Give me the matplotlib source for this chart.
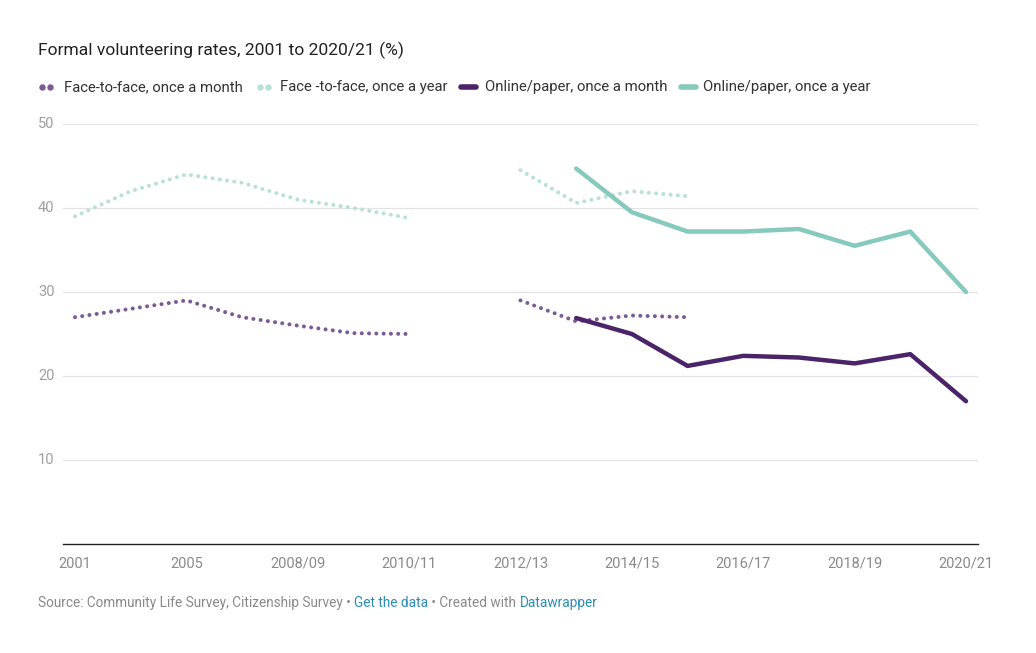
import numpy as np
import matplotlib
matplotlib.use("Agg")
import matplotlib.pyplot as plt
from matplotlib.lines import Line2D

plt.rcParams['font.family'] = ['Roboto', 'DejaVu Sans']

categories = ["2001", "2003", "2005", "2007", "2008/09", "2009/10", "2010/11", "2011/12",
              "2012/13", "2013/14", "2014/15", "2015/16", "2016/17", "2017/18", "2018/19",
              "2019/20", "2020/21"]
tick_labels = ["2001", "2005", "2008/09", "2010/11", "2012/13", "2014/15", "2016/17", "2018/19", "2020/21"]

nan = np.nan
f2f_month = [27, 28, 29, 27, 26, 25.1, 25, nan, 29, 26.5, 27.2, 27, nan, nan, nan, nan, nan]
f2f_year = [39, 42, 44, 43, 41, 40, 38.8, nan, 44.5, 40.6, 42, 41.4, nan, nan, nan, nan, nan]
online_month = [nan]*9 + [26.9, 25, 21.2, 22.4, 22.2, 21.5, 22.6, 17]
online_year = [nan]*9 + [44.7, 39.5, 37.2, 37.2, 37.5, 35.5, 37.2, 30]

series_names = ["Face-to-face, once a month", "Face -to-face, once a year",
                "Online/paper, once a month", "Online/paper, once a year"]
colors = ["#7b5b95", "#b7e1d7", "#4b2369", "#86c9bd"]

W, H = 1036, 653
fig = plt.figure(figsize=(W/100, H/100), dpi=100)
ax = fig.add_axes([63/W, 1-544/H, (978-63)/W, (544-124)/H])

x = np.arange(len(categories))
dot_style = (0, (0.01, 1.8))
for vals, c in [(f2f_month, colors[0]), (f2f_year, colors[1])]:
    v = np.array(vals, dtype=float)
    ax.plot(x, v, color=c, lw=2.9, linestyle=dot_style, dash_capstyle='round', zorder=3)
for vals, c in [(online_month, colors[2]), (online_year, colors[3])]:
    v = np.array(vals, dtype=float)
    ax.plot(x, v, color=c, lw=3.2, solid_capstyle='round', solid_joinstyle='round', zorder=4)

ax.set_xlim(-(75-63)/55.69, 16 + (978-966)/55.69)
ax.set_ylim(0, 50)
for s in ['top', 'right', 'left']:
    ax.spines[s].set_visible(False)
ax.spines['bottom'].set_color('#222222')
ax.spines['bottom'].set_linewidth(1.0)

for yv in [10, 20, 30, 40, 50]:
    ax.axhline(yv, color='#e3e3e3', lw=0.9, zorder=1)
    ax.text(38/W, ax.transData.transform((0, yv))[1]/H, str(yv), transform=fig.transFigure,
            ha='left', va='center', fontsize=10.5, color='#a0a0a0')
ax.set_yticks([])

tick_pos = [categories.index(t) for t in tick_labels]
ax.set_xticks(tick_pos)
ax.set_xticklabels(tick_labels, fontsize=10.5, color='#8a8a8a')
ax.tick_params(axis='x', length=0, pad=9)

fig.text(38/W, 1-50/H, "Formal volunteering rates, 2001 to 2020/21 (%)", fontsize=12.6,
         color='#222222', ha='left', va='center')

# legend
ly = 1-87/H
leg_items = [(42, 64, 0), (260, 280, 1), (461, 485, 2), (681, 703, 3)]
for x0, tx, i in leg_items:
    if i < 2:
        for dx in [0, 8]:
            fig.add_artist(Line2D([(x0+dx)/W], [ly], marker='o', markersize=3.6, color=colors[i],
                                  linestyle='none', transform=fig.transFigure))
    else:
        fig.add_artist(Line2D([x0/W, (x0+15)/W], [ly, ly], lw=4, color=colors[i],
                              solid_capstyle='round', transform=fig.transFigure))
    fig.text(tx/W, ly, series_names[i], fontsize=10.7, color='#333333', ha='left', va='center')

# footer
parts = [("Source: Community Life Survey, Citizenship Survey • ", '#8a8a8a'),
         ("Get the data", '#2b8cb8'),
         (" • Created with ", '#8a8a8a'),
         ("Datawrapper", '#2b8cb8')]
fig.canvas.draw()
r = fig.canvas.get_renderer()
xpos = 38
for txt, c in parts:
    t = fig.text(xpos/W, 1-603/H, txt, fontsize=9.85, color=c, ha='left', va='center')
    bb = t.get_window_extent(renderer=r)
    xpos += bb.width

fig.savefig("out.png", dpi=100, facecolor='white')
